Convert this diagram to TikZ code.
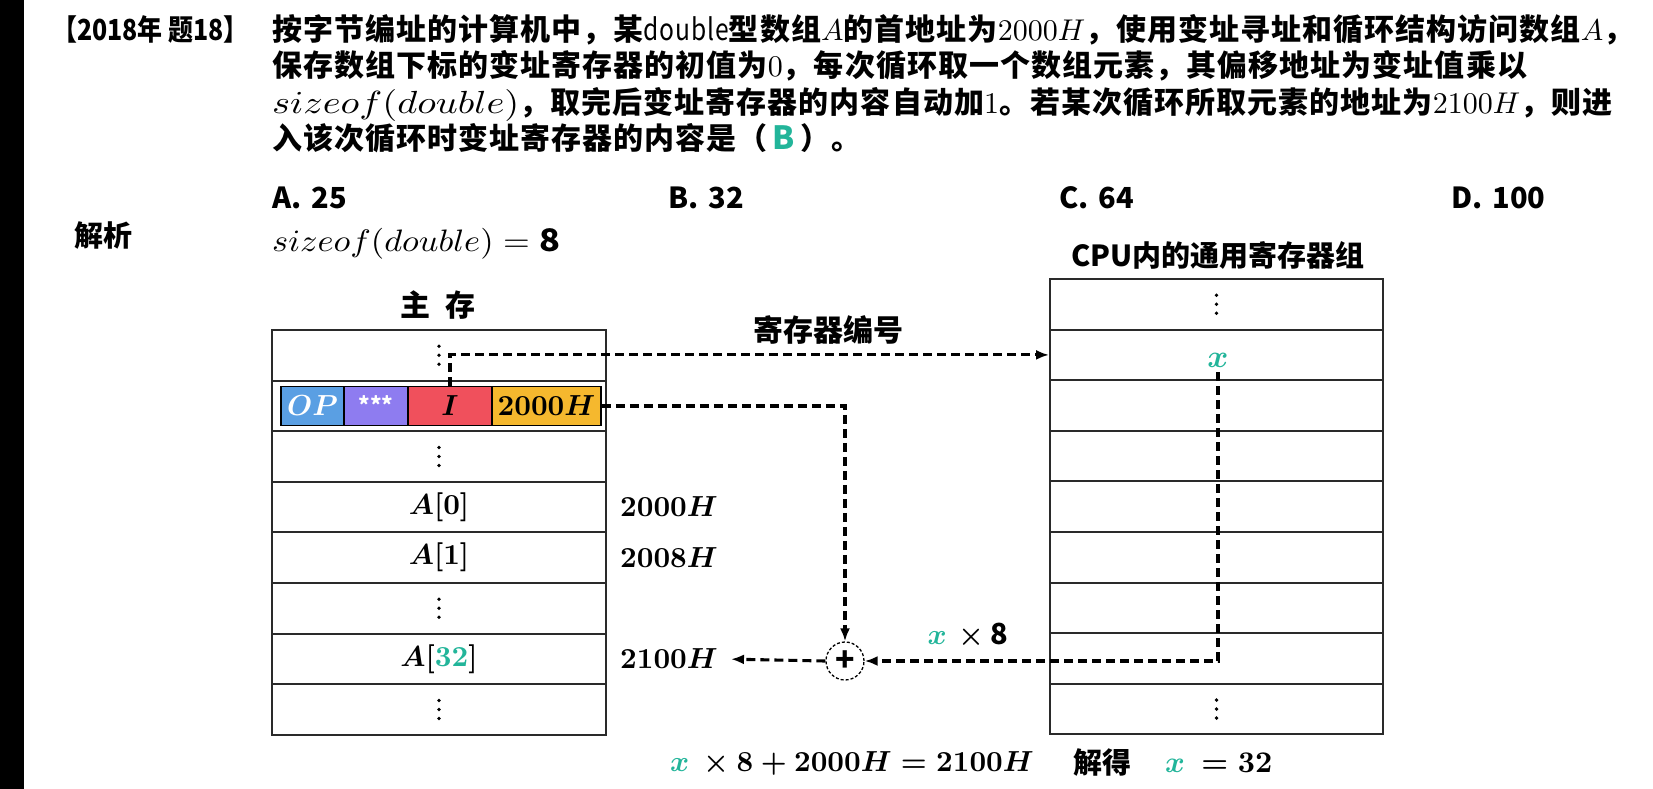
\documentclass[tikz,border=0pt]{standalone}
\usepackage{fontspec}
\setmainfont{Noto Sans CJK SC}
\newfontfamily\tfont{Noto Sans CJK SC}[LetterSpace=3.5]
\usepackage{amsmath}
\DeclareFontShape{OML}{cmm}{m}{it}{<->cmmi10}{}
\DeclareFontShape{OML}{cmm}{b}{it}{<->cmmib10}{}
\DeclareFontShape{OT1}{cmr}{m}{n}{<->cmr10}{}
\DeclareFontShape{OT1}{cmr}{bx}{n}{<->cmbx10}{}
\DeclareFontShape{OMS}{cmsy}{m}{n}{<->cmsy10}{}
\DeclareFontShape{OMS}{cmsy}{b}{n}{<->cmbsy10}{}
\DeclareFontShape{OMX}{cmex}{m}{n}{<->cmex10}{}
\usetikzlibrary{arrows.meta}
\definecolor{tgreen}{HTML}{22B59A}
\definecolor{cop}{HTML}{5A9FE3}
\definecolor{cst}{HTML}{8E7CF0}
\definecolor{cI}{HTML}{F0505C}
\definecolor{cad}{HTML}{F5B82E}
\definecolor{bord}{HTML}{2A2A2A}
\tikzset{
 cell/.style={draw=bord, line width=1.9pt, minimum width=334pt, minimum height=50.6pt, inner sep=0pt, font=\fontsize{29}{30}\selectfont\boldmath},
 reg/.style={cell, minimum width=333pt},
 bar/.style={draw=black, line width=1.8pt, minimum height=39pt, inner sep=0pt, font=\fontsize{29}{30}\selectfont\boldmath},
 dsh/.style={line width=3.1pt, dash pattern=on 9pt off 5pt, -{Latex[length=13pt,width=10pt]}},
 ttl/.style={anchor=base west, inner sep=0pt, font=\tfont\fontsize{30}{36}\bfseries\selectfont},
 lbl/.style={inner sep=0pt, font=\fontsize{29}{30}\bfseries\selectfont\boldmath},
 opt/.style={anchor=west, inner sep=0pt, font=\fontsize{29}{30}\bfseries\selectfont},
 dotm/.style={fill=black},
}
\begin{document}
\begin{tikzpicture}[x=1pt,y=-1pt]
\useasboundingbox (0,0) rectangle (1653,789);
\fill[white] (0,0) rectangle (1653,789);
\fill[black] (0,0) rectangle (24,789);

% title
\node[ttl, font=\fontsize{29}{30}\bfseries\selectfont] (tag) at (52,41) {\scalebox{0.86}[1]{【2018年 题18】}};
\node[ttl] (t1) at (272,41) {按字节编址的计算机中，某{\mdseries\scalebox{0.82}[1]{double}}型数组$A$的首地址为$2000H$，使用变址寻址和循环结构访问数组$A$，};
\node[ttl] (t2) at (272,77) {保存数组下标的变址寄存器的初值为$0$，每次循环取一个数组元素，其偏移地址为变址值乘以};
\node[ttl] (t3) at (272,113.5) {{\fontsize{32}{36}\selectfont\scalebox{1.2}[1]{$sizeof(double)$}}，取完后变址寄存器的内容自动加$1$。若某次循环所取元素的地址为$2100H$，则进};
\node[ttl] (t4) at (272,149.5) {入该次循环时变址寄存器的内容是（\hspace{5pt}{\fontsize{32}{36}\selectfont\color{tgreen}B}\hspace{5pt}）。};

% options
\node[opt] (oa) at (272,198) {A.\hspace{10pt}25};
\node[opt] (ob) at (668,198) {B.\hspace{10pt}32};
\node[opt] (oc) at (1059,198) {C.\hspace{10pt}64};
\node[opt] (od) at (1451,198) {D.\hspace{10pt}100};

\node[lbl, font=\fontsize{29}{30}\bfseries\selectfont] (jx) at (103,236) {解析};
\node[lbl, anchor=west, font=\fontsize{31}{31}\selectfont] (sz) at (272,244) {\scalebox{1.11}[1]{$sizeof(double)=\mathbf{8}$}};

% headings
\node[lbl, font=\fontsize{30}{30}\bfseries\selectfont] (lmem) at (438,305) {主\hspace{15pt}存};
\node[lbl, font=\fontsize{29}{30}\bfseries\selectfont] (lcpu) at (1218,255) {CPU内的通用寄存器组};
\node[lbl, font=\fontsize{30}{30}\bfseries\selectfont] (lreg) at (828,330) {寄存器编号};

% memory
\node[cell] (m0) at (439,355.3) {};
\node[cell] (m1) at (439,405.9) {};
\node[cell] (m2) at (439,456.5) {};
\node[cell] (m3) at (439,507.1) {$A[0]$};
\node[cell] (m4) at (439,557.7) {$A[1]$};
\node[cell] (m5) at (439,608.3) {};
\node[cell] (m6) at (439,658.9) {$A[{\color{tgreen}32}]$};
\node[cell] (m7) at (439,709.5) {};

% instruction
\node[bar, fill=cop, minimum width=63pt, text=white] (bop) at (312.5,406) {$OP$};
\node[bar, fill=cst, minimum width=64pt, text=white, font=\fontsize{22}{22}\bfseries\selectfont] (bst) at (376,406) {\raisebox{3pt}{***}};
\node[bar, fill=cI, minimum width=84pt] (bI) at (450,406) {$I$};
\node[bar, fill=cad, minimum width=109pt] (bad) at (546.5,406) {$2000H$};

% registers
\node[reg] (r0) at (1216.5,304.3) {};
\node[reg] (r1) at (1216.5,354.9) {};
\node[reg] (r2) at (1216.5,405.5) {};
\node[reg] (r3) at (1216.5,456.1) {};
\node[reg] (r4) at (1216.5,506.7) {};
\node[reg] (r5) at (1216.5,557.3) {};
\node[reg] (r6) at (1216.5,607.9) {};
\node[reg] (r7) at (1216.5,658.5) {};
\node[reg] (r8) at (1216.5,709.1) {};
\node[lbl, inner sep=5pt, font=\fontsize{32}{32}\selectfont\boldmath] (xv) at (1218,360) {\color{tgreen}$x$};

% vertical ellipses
\foreach \c in {m0,m2,m5,m7,r0,r8}
  \foreach \d in {-9,0,9}
    \fill[dotm] ([yshift=\d pt]\c.center) circle (1.9pt);

% address labels
\node[lbl, anchor=west] (l2000) at (620,507) {$2000H$};
\node[lbl, anchor=west] (l2008) at (620,557.7) {$2008H$};
\node[lbl, anchor=west] (l2100) at (620,658.9) {$2100H$};

% adder
\node[circle, draw, dash pattern=on 3pt off 2pt, line width=1.3pt, minimum size=38pt, inner sep=0pt, font=\fontsize{32}{32}\bfseries\selectfont] (plus) at (845,661) {+};

\node[lbl] (lx8) at (968,636) {{\color{tgreen}$x$}\, $\times$ 8};

% connectors
\draw[dsh] (bI.north) |- (r1.west);
\draw[dsh] (bad.east) -| (plus.north);
\draw[dsh] (xv.south) |- (plus.east);
\draw[dsh, shorten >=13pt] (plus.west) -- (l2100.east);

% bottom equation
\node[lbl, anchor=west, font=\fontsize{29}{30}\bfseries\selectfont\boldmath] (eq1) at (670,763) {${\color{tgreen}x}\ \times 8+2000H=2100H$};
\node[lbl] (jd) at (1102,763) {解得};
\node[lbl, anchor=west, font=\fontsize{30}{30}\bfseries\selectfont\boldmath] (eq2) at (1165,763) {${\color{tgreen}x}\ =32$};
\end{tikzpicture}
\end{document}
